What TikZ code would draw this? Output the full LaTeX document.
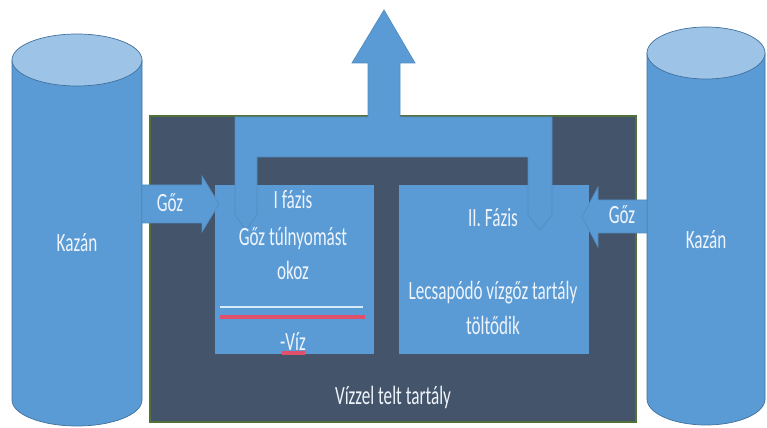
\documentclass[tikz,border=0pt]{standalone}
\usepackage{fontspec}
\setmainfont{Carlito}
\usepackage{xcolor}
\definecolor{boilerblue}{HTML}{5B9BD5}
\definecolor{boilertop}{HTML}{9DC3E6}
\definecolor{boilerline}{HTML}{41719C}
\definecolor{tankdark}{HTML}{44546A}
\definecolor{tankrim}{HTML}{52703C}
\definecolor{labelwhite}{HTML}{EEF4FB}
\definecolor{levelred}{HTML}{E0506A}
\definecolor{levellight}{HTML}{D6EAF8}

\begin{document}
\begin{tikzpicture}[x=0.02cm,y=-0.02cm,
  lbl/.style={text=labelwhite,font=\fontsize{15}{17}\selectfont,xscale=0.65,inner sep=0pt},
  pipe/.style={fill=boilerblue,draw=boilerline!35!boilerblue,line width=0.4pt}]
\useasboundingbox (0,0) rectangle (767,428);
\fill[boilerblue] (12,60) -- (12,400) arc[start angle=180,end angle=0,x radius=65,y radius=26] -- (142,60) -- cycle;
\draw[boilerline] (12,60) -- (12,400) arc[start angle=180,end angle=0,x radius=65,y radius=26] -- (142,60);
\filldraw[fill=boilertop,draw=boilerline] (77,60) ellipse [x radius=65,y radius=26];
\fill[boilerblue] (647,53) -- (647,399) arc[start angle=180,end angle=0,x radius=59,y radius=26] -- (765,53) -- cycle;
\draw[boilerline] (647,53) -- (647,399) arc[start angle=180,end angle=0,x radius=59,y radius=26] -- (765,53);
\filldraw[fill=boilertop,draw=boilerline] (706,53) ellipse [x radius=59,y radius=26];
\filldraw[fill=tankdark,draw=tankrim,line width=0.8pt] (150,116) rectangle (636,422);
\fill[boilerblue] (215,185) rectangle (374,354);
\fill[boilerblue] (399,185) rectangle (589,354);
\filldraw[pipe] (235,215) -- (235,117) -- (368,117) -- (368,63) -- (352,63) -- (384,10) -- (415,63) -- (400,63) -- (400,117) -- (552,117) -- (552,215) -- (540,230) -- (528,215) -- (528,157) -- (257,157) -- (257,215) -- (246,230) -- cycle;
\filldraw[pipe] (142,185) -- (202,185) -- (202,176) -- (219,204) -- (202,232) -- (202,223) -- (142,223) -- cycle;
\filldraw[pipe] (647,200) -- (598,200) -- (598,187) -- (582,217) -- (598,247) -- (598,233) -- (647,233) -- cycle;
\draw[levellight,line width=1pt] (220,307) -- (363,307);
\draw[levelred,line width=1.8pt] (220,317) -- (365,317);
\draw[levelred,line width=1.8pt] (282,353) -- (305,353);
\node[lbl] (kazanL) at (77,243) {Kazán};
\node[lbl] (kazanR) at (706,240) {Kazán};
\node[lbl] (gozL) at (170,203) {Gőz};
\node[lbl] (gozR) at (622,215) {Gőz};
\node[lbl] (phaseI) at (293,200) {I fázis};
\node[lbl] (overpress) at (293,238) {Gőz túlnyomást};
\node[lbl] (okoz) at (293,270) {okoz};
\node[lbl] (water) at (293,342) {-Víz};
\node[lbl] (phaseII) at (493,218) {II. Fázis};
\node[lbl] (condense) at (493,293) {Lecsapódó vízgőz tartály};
\node[lbl] (filling) at (493,325) {töltődik};
\node[lbl] (tanklabel) at (393,397) {Vízzel telt tartály};
\end{tikzpicture}
\end{document}
